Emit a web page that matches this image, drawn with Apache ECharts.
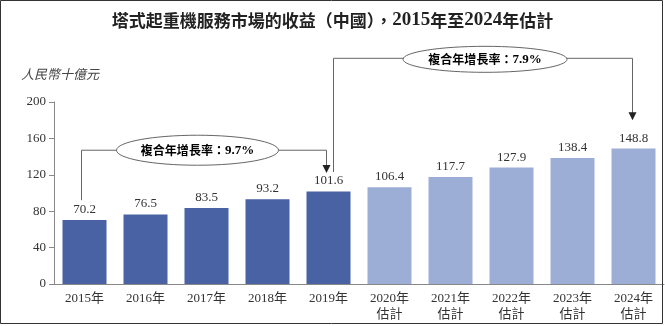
<!DOCTYPE html>
<html><head><meta charset="utf-8">
<script src="https://cdn.jsdelivr.net/npm/echarts@6/dist/echarts.min.js"></script>
<style>html,body{margin:0;padding:0;background:#fff}#c{width:665px;height:326px}</style>
</head><body><div id="c"></div>
<script>
const categories = ['2015年','2016年','2017年','2018年','2019年','2020年\n估計','2021年\n估計','2022年\n估計','2023年\n估計','2024年\n估計'];
const values = [70.2, 76.5, 83.5, 93.2, 101.6, 106.4, 117.7, 127.9, 138.4, 148.8];
const isEstimate = [false,false,false,false,false,true,true,true,true,true];
const yTicks = [0, 40, 80, 120, 160, 200];
const cagrHist = '9.7%';
const cagrFcst = '7.9%';

const SERIF = '"Liberation Serif","Times New Roman","Noto Sans CJK TC",serif';
const CJK = '"Noto Sans CJK TC","Noto Sans CJK SC",sans-serif';
const DARK = '#4862a3';
const LIGHT = '#9cadd6';

const chart = echarts.init(document.getElementById('c'));
chart.setOption({
  animation: false,
  backgroundColor: '#fff',
  title: {
    text: '{c|塔式起重機服務市場的收益（中國），}{n|2015}{c|年至}{n|2024}{c|年估計}',
    left: 'center', top: 6,
    textStyle: { rich: {
      c: { fontFamily: CJK, fontSize: 17, fontWeight: 'bold', color: '#222' },
      n: { fontFamily: SERIF, fontSize: 19, fontWeight: 'bold', color: '#222' }
    }}
  },
  grid: { left: 54, right: 1, top: 102, bottom: 42 },
  xAxis: {
    type: 'category', data: categories,
    axisLine: { lineStyle: { color: '#888', width: 1 } },
    axisTick: { show: false },
    axisLabel: { interval: 0, color: '#333', fontFamily: SERIF, fontSize: 13, lineHeight: 16, margin: 7 }
  },
  yAxis: {
    type: 'value', min: yTicks[0], max: yTicks[yTicks.length - 1], interval: 40,
    name: '人民幣十億元', nameLocation: 'end', nameGap: 21,
    nameTextStyle: { fontFamily: CJK, fontStyle: 'italic', fontSize: 13, color: '#444', align: 'center', padding: [0, 0, 0, 12] },
    splitLine: { show: false },
    axisLine: { show: true, lineStyle: { color: '#888' } },
    axisTick: { show: true, length: 5, lineStyle: { color: '#888' } },
    axisLabel: { color: '#333', fontFamily: SERIF, fontSize: 13, margin: 8 }
  },
  series: [{
    type: 'bar', barWidth: 44,
    data: values.map((v, i) => ({ value: v, itemStyle: { color: isEstimate[i] ? LIGHT : DARK } })),
    label: { show: true, position: 'top', distance: 4, color: '#333', fontFamily: SERIF, fontSize: 13 }
  }]
});

function px(i, v) { return chart.convertToPixel({ xAxisIndex: 0, yAxisIndex: 0 }, [i, v]); }
const lineStyle = { stroke: '#666', lineWidth: 1, fill: null };
function poly(points) { return { type: 'polyline', shape: { points }, style: lineStyle, z: 10 }; }
function arrow(x, y) {
  return { type: 'polygon', shape: { points: [[x - 4, y - 8], [x + 4, y - 8], [x, y]] }, style: { fill: '#222' }, z: 10 };
}
function bubble(cx, cy, rx, ry, rate) {
  return [
    { type: 'ellipse', shape: { cx, cy, rx, ry }, style: { fill: '#fff', stroke: '#666', lineWidth: 1 }, z: 11 },
    { type: 'text', x: cx, y: cy, z: 12, style: {
      text: '{c|複合年增長率：}{n|' + rate + '}', align: 'center', verticalAlign: 'middle',
      rich: { c: { fontFamily: CJK, fontSize: 12, fontWeight: 'bold', color: '#222' },
              n: { fontFamily: SERIF, fontSize: 13, fontWeight: 'bold', color: '#222' } }
    }}
  ];
}

const a0 = px(0, 92), a0t = px(0, 147);
const a4 = px(4, 122);
const b4 = px(4, 123), b4t = px(4, 248);
const b9 = px(9, 180);
const xL = a0[0] - 3, yL = a0t[1];
const xR1 = a4[0] - 2;
const xR2 = b4[0] + 5, yT = b4t[1];
const xE = b9[0] - 1;
const g = [];
g.push(poly([[xL, a0[1]], [xL, yL], [xR1, yL], [xR1, a4[1] - 7]]));
g.push(arrow(xR1, a4[1]));
g.push(poly([[xR2, b4[1]], [xR2, yT], [xE, yT], [xE, b9[1] - 7]]));
g.push(arrow(xE, b9[1]));
const c1 = px(2, 0)[0] - 9;
g.push(...bubble(c1, yL, 81, 15, cagrHist));
const c2 = (px(6, 0)[0] + px(7, 0)[0]) / 2 + 4;
g.push(...bubble(c2, yT + 1, 82, 13, cagrFcst));
g.push({ type: 'rect', shape: { x: 0.5, y: 0.5, width: 662, height: 323 }, style: { fill: null, stroke: '#333', lineWidth: 1 }, z: 20 });
chart.setOption({ graphic: g });
</script>
</body></html>
